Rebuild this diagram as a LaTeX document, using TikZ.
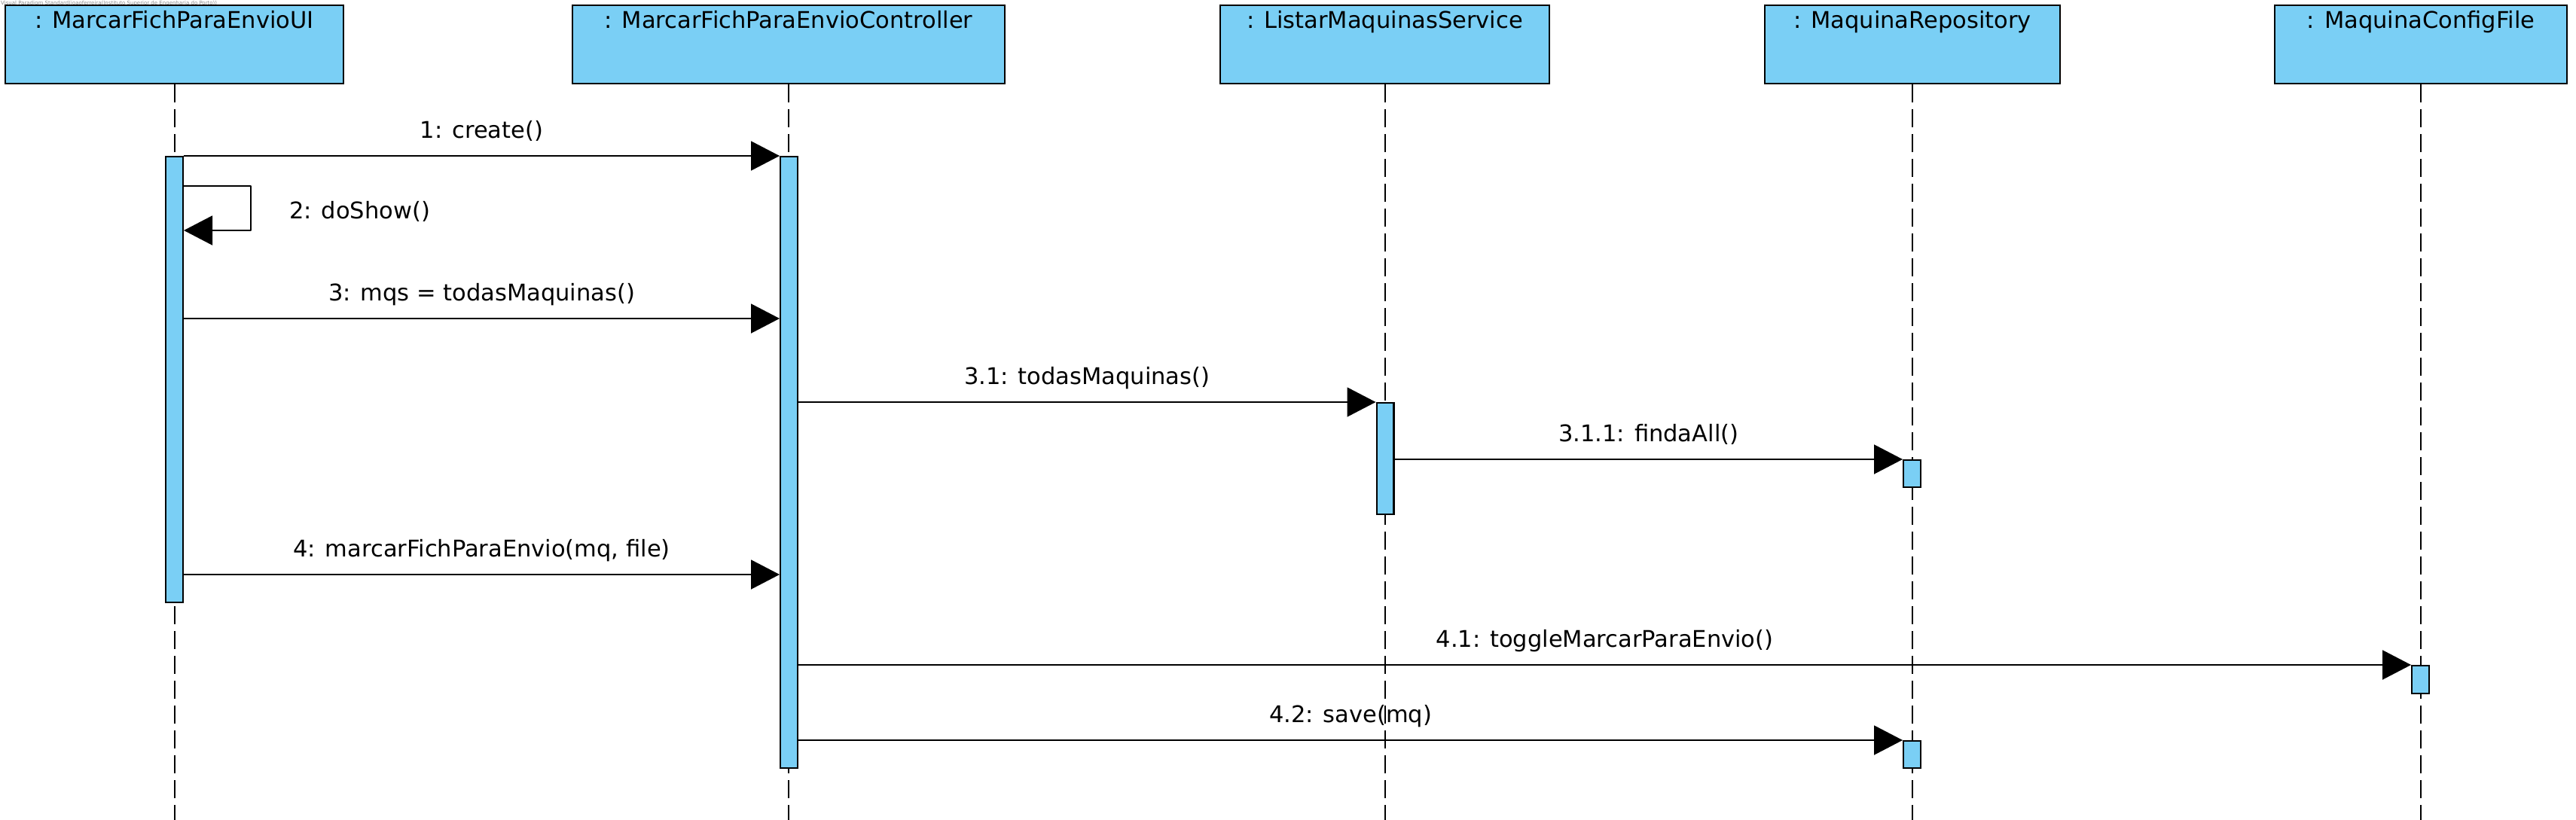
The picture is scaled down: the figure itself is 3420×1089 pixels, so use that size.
\documentclass[tikz,border=0pt]{standalone}
\usepackage{fontspec}
\setmainfont{DejaVu Sans}
\usetikzlibrary{arrows.meta,calc}
\definecolor{vpblue}{RGB}{122,207,245}
\definecolor{wmgray}{RGB}{140,140,140}
\begin{document}
\begin{tikzpicture}[x=1pt,y=-1pt,
  font=\fontsize{30.5pt}{36pt}\selectfont,
  lifebox/.style={draw=black, line width=2.4pt, fill=vpblue, minimum height=104pt, inner sep=0pt, anchor=north},
  boxlabel/.style={anchor=base, inner sep=0pt},
  lifeline/.style={line width=2pt, dash pattern=on 24pt off 9pt},
  actbar/.style={draw=black, line width=2.4pt, fill=vpblue, minimum width=22.6pt, inner sep=0pt, anchor=north},
  msg/.style={line width=2pt, -{Triangle[length=38pt,width=39pt]}},
  msglabel/.style={anchor=base, inner sep=0pt, yshift=24pt}]
\useasboundingbox (0,0) rectangle (3420,1089);

% watermark
\node[anchor=north west, inner sep=0pt, text=wmgray, font=\fontsize{7pt}{8pt}\selectfont] (wm) at (1,0.5) {Visual Paradigm Standard(joaoferreira(Instituto Superior de Engenharia do Porto))};

% lifeline heads
\node[lifebox, minimum width=449pt] (ui) at (231.5,6) {};
\node[lifebox, minimum width=574pt] (ctrl) at (1047,6) {};
\node[lifebox, minimum width=437pt] (listar) at (1838.5,6) {};
\node[lifebox, minimum width=392pt] (repo) at (2539,6) {};
\node[lifebox, minimum width=388pt] (cfg) at (3214,6) {};

\node[boxlabel] (uil) at ($(ui.north)+(0,32)$) {: MarcarFichParaEnvioUI};
\node[boxlabel] (ctrll) at ($(ctrl.north)+(0,32)$) {: MarcarFichParaEnvioController};
\node[boxlabel] (listarl) at ($(listar.north)+(0,32)$) {: ListarMaquinasService};
\node[boxlabel] (repol) at ($(repo.north)+(0,32)$) {: MaquinaRepository};
\node[boxlabel] (cfgl) at ($(cfg.north)+(0,32)$) {: MaquinaConfigFile};

% lifelines
\coordinate (bottom) at (0,1089);
\foreach \n in {ui,ctrl,listar,repo,cfg}{
  \draw[lifeline] (\n.south) -- (\n.south |- bottom);
}

% activation bars
\node[actbar, minimum height=592pt] (uibar) at (231.5,207) {};
\node[actbar, minimum height=812pt] (ctrlbar) at (1047.5,207) {};
\node[actbar, minimum height=148pt] (listarbar) at (1839,534) {};
\node[actbar, minimum height=36pt] (repobarA) at (2538.5,610) {};
\node[actbar, minimum height=37pt] (cfgbar) at (3213.5,883) {};
\node[actbar, minimum height=36pt] (repobarB) at (2538.5,983) {};

% message y levels
\coordinate (y2a) at (0,247);
\coordinate (y2b) at (0,306);
\coordinate (y3) at (0,423);
\coordinate (y4) at (0,763);
\coordinate (s2) at (333,247);

% messages
\draw[msg] (uibar.north east) -- node[msglabel] {1: create()} (ctrlbar.north west);
\draw[msg, line join=round] (uibar.east |- y2a) -- (s2) -- (s2 |- y2b) -- (uibar.east |- y2b);
\node[anchor=base west, inner sep=0pt] (l2) at (384,290) {2: doShow()};
\draw[msg] (uibar.east |- y3) -- node[msglabel] {3: mqs = todasMaquinas()} (ctrlbar.west |- y3);
\draw[msg] (ctrlbar.east |- listarbar.north) -- node[msglabel] {3.1: todasMaquinas()} (listarbar.north west);
\draw[msg] (listarbar.east |- repobarA.north) -- node[msglabel] {3.1.1: findaAll()} (repobarA.north west);
\draw[msg] (uibar.east |- y4) -- node[msglabel] {4: marcarFichParaEnvio(mq, file)} (ctrlbar.west |- y4);
\draw[msg] (ctrlbar.east |- cfgbar.north) -- node[msglabel] {4.1: toggleMarcarParaEnvio()} (cfgbar.north west);
\draw[msg] (ctrlbar.east |- repobarB.north) -- node[msglabel] {4.2: save(mq)} (repobarB.north west);
\end{tikzpicture}
\end{document}
